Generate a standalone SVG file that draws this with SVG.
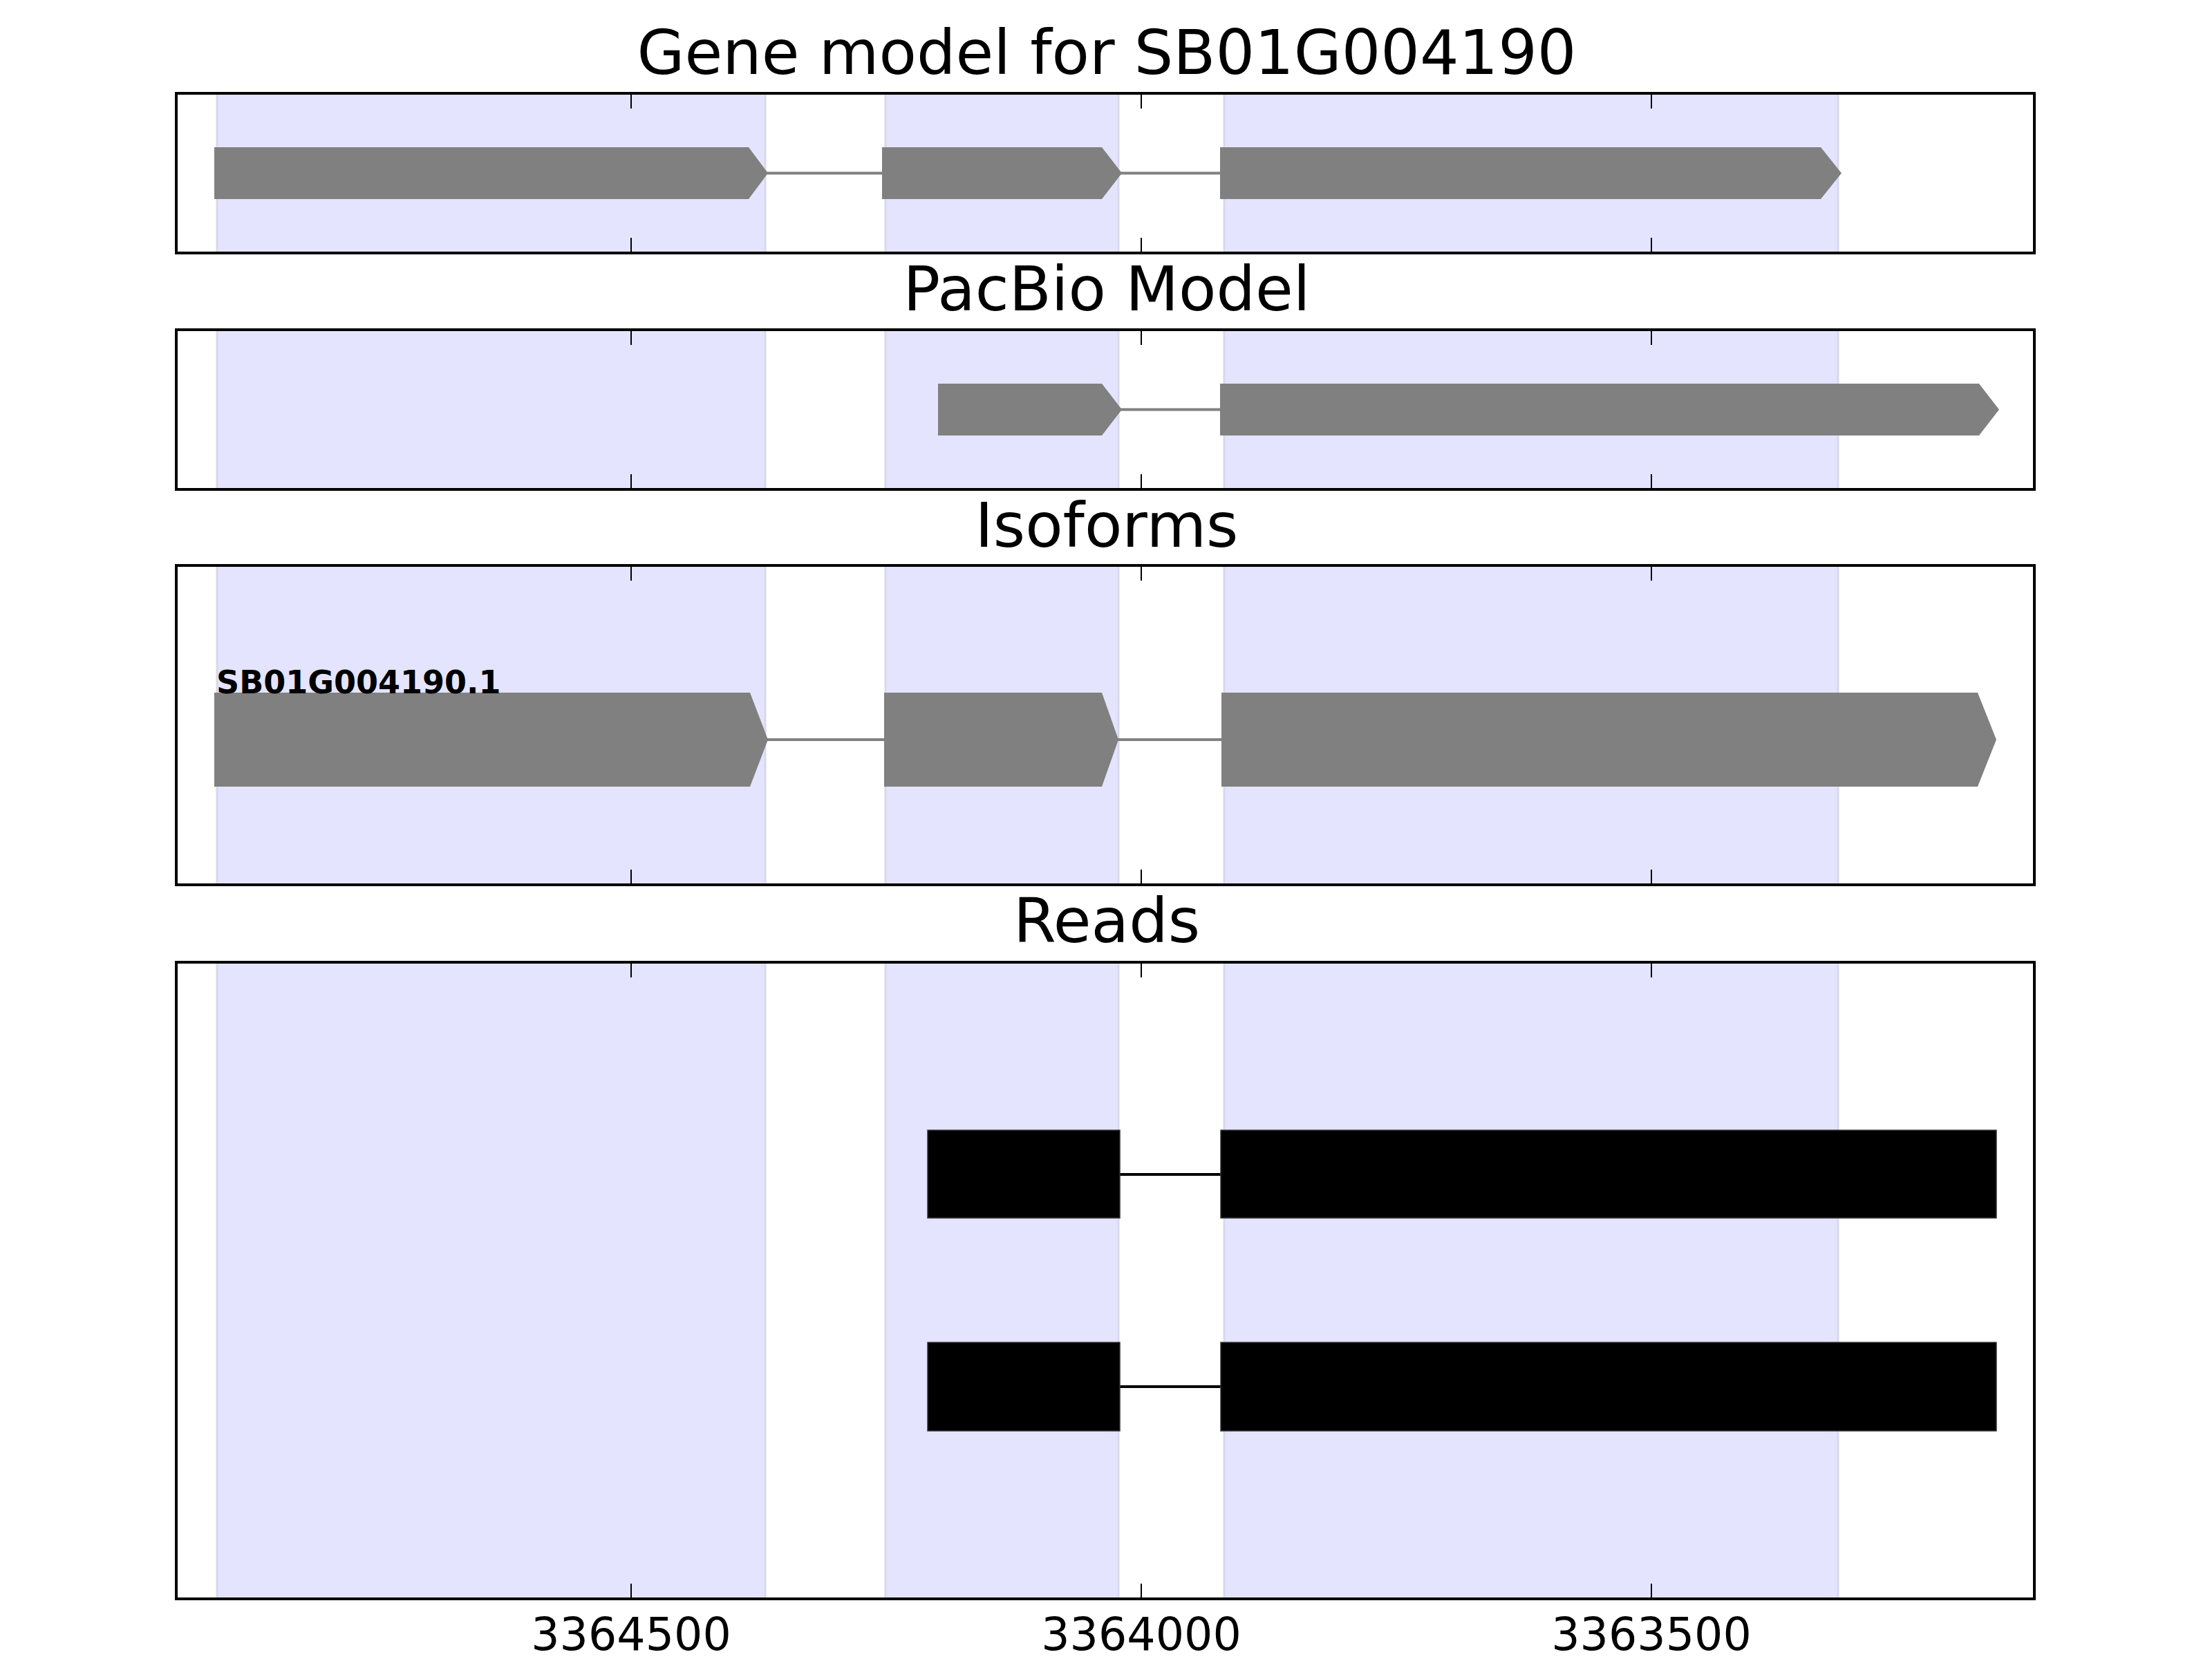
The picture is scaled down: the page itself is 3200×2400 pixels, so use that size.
<svg xmlns="http://www.w3.org/2000/svg" width="3200" height="2400" viewBox="0 0 3200 2400">
<style>
.title{font-family:"DejaVu Sans","Liberation Sans",sans-serif;font-size:89px;fill:#000;text-anchor:middle}
.tick{font-family:"DejaVu Sans","Liberation Sans",sans-serif;font-size:65px;fill:#000;text-anchor:middle}
.lbl{font-family:"DejaVu Sans","Liberation Sans",sans-serif;font-size:46px;font-weight:bold;fill:#000}
.band{fill:#e4e4fe;stroke:#d8d8ec;stroke-width:3}
.frame{fill:none;stroke:#000;stroke-width:4}
.tk{stroke:#000;stroke-width:2}
.exon{fill:#808080}
.intron{stroke:#808080;stroke-width:4;fill:none}
.read{fill:#000;stroke:#333;stroke-width:1.5}
.rintron{stroke:#000;stroke-width:4;fill:none}
</style>
<rect width="3200" height="2400" fill="#fff"/>

<g id="titles">
<text class="title" x="1601" y="107">Gene model for SB01G004190</text>
<text class="title" x="1601" y="449">PacBio Model</text>
<text class="title" x="1601" y="791">Isoforms</text>
<text class="title" x="1601" y="1363">Reads</text>
</g>

<g id="panel-gene">
<rect class="band" x="314" y="135" width="793" height="231"/>
<rect class="band" x="1281" y="135" width="337" height="231"/>
<rect class="band" x="1771" y="135" width="888" height="231"/>
<line class="tk" x1="913" y1="137" x2="913" y2="157"/><line class="tk" x1="913" y1="344" x2="913" y2="364"/>
<line class="tk" x1="1651" y1="137" x2="1651" y2="157"/><line class="tk" x1="1651" y1="344" x2="1651" y2="364"/>
<line class="tk" x1="2389" y1="137" x2="2389" y2="157"/><line class="tk" x1="2389" y1="344" x2="2389" y2="364"/>
<rect class="frame" x="255" y="135" width="2688" height="231"/>
</g>

<g id="panel-pacbio">
<rect class="band" x="314" y="477" width="793" height="231"/>
<rect class="band" x="1281" y="477" width="337" height="231"/>
<rect class="band" x="1771" y="477" width="888" height="231"/>
<line class="tk" x1="913" y1="479" x2="913" y2="499"/><line class="tk" x1="913" y1="686" x2="913" y2="706"/>
<line class="tk" x1="1651" y1="479" x2="1651" y2="499"/><line class="tk" x1="1651" y1="686" x2="1651" y2="706"/>
<line class="tk" x1="2389" y1="479" x2="2389" y2="499"/><line class="tk" x1="2389" y1="686" x2="2389" y2="706"/>
<rect class="frame" x="255" y="477" width="2688" height="231"/>
</g>

<g id="panel-isoforms">
<rect class="band" x="314" y="818" width="793" height="462"/>
<rect class="band" x="1281" y="818" width="337" height="462"/>
<rect class="band" x="1771" y="818" width="888" height="462"/>
<line class="tk" x1="913" y1="820" x2="913" y2="840"/><line class="tk" x1="913" y1="1258" x2="913" y2="1278"/>
<line class="tk" x1="1651" y1="820" x2="1651" y2="840"/><line class="tk" x1="1651" y1="1258" x2="1651" y2="1278"/>
<line class="tk" x1="2389" y1="820" x2="2389" y2="840"/><line class="tk" x1="2389" y1="1258" x2="2389" y2="1278"/>
<rect class="frame" x="255" y="818" width="2688" height="462"/>
</g>

<g id="panel-reads">
<rect class="band" x="314" y="1392" width="793" height="921"/>
<rect class="band" x="1281" y="1392" width="337" height="921"/>
<rect class="band" x="1771" y="1392" width="888" height="921"/>
<line class="tk" x1="913" y1="1394" x2="913" y2="1414"/><line class="tk" x1="913" y1="2291" x2="913" y2="2311"/>
<line class="tk" x1="1651" y1="1394" x2="1651" y2="1414"/><line class="tk" x1="1651" y1="2291" x2="1651" y2="2311"/>
<line class="tk" x1="2389" y1="1394" x2="2389" y2="1414"/><line class="tk" x1="2389" y1="2291" x2="2389" y2="2311"/>
</g>

<g id="connectors">
<line class="intron" x1="1109" y1="250.5" x2="1278" y2="250.5"/>
<line class="intron" x1="1621" y1="250.5" x2="1767" y2="250.5"/>
<line class="intron" x1="1621" y1="592.5" x2="1767" y2="592.5"/>
<line class="intron" x1="1109" y1="1070" x2="1281" y2="1070"/>
<line class="intron" x1="1616" y1="1070" x2="1769" y2="1070"/>
<line class="rintron" x1="1620" y1="1699" x2="1766" y2="1699"/>
<line class="rintron" x1="1620" y1="2006" x2="1766" y2="2006"/>
</g>

<g id="gene-model">
<polygon class="exon" points="310,213 1083,213 1111,250.5 1083,288 310,288"/>
<polygon class="exon" points="1276,213 1594,213 1623,250.5 1594,288 1276,288"/>
<polygon class="exon" points="1765,213 2634,213 2664,250.5 2634,288 1765,288"/>
</g>

<g id="pacbio-model">
<polygon class="exon" points="1357,555 1594,555 1623,592.5 1594,630 1357,630"/>
<polygon class="exon" points="1765,555 2863,555 2892,592.5 2863,630 1765,630"/>
</g>

<g id="isoform-SB01G004190.1">
<polygon class="exon" points="310,1002 1085,1002 1111,1070 1085,1138 310,1138"/>
<polygon class="exon" points="1279,1002 1594,1002 1618,1070 1594,1138 1279,1138"/>
<polygon class="exon" points="1767,1002 2861,1002 2888,1070 2861,1138 1767,1138"/>
<text class="lbl" x="313" y="1003">SB01G004190.1</text>
</g>

<g id="read-1">
<rect class="read" x="1342" y="1635" width="278" height="127"/>
<rect class="read" x="1766" y="1635" width="1122" height="127"/>
</g>

<g id="read-2">
<rect class="read" x="1342" y="1942" width="278" height="128"/>
<rect class="read" x="1766" y="1942" width="1122" height="128"/>
</g>

<g id="reads-frame">
<rect class="frame" x="255" y="1392" width="2688" height="921"/>
</g>

<g id="axis-labels">
<text class="tick" x="913" y="2387">3364500</text>
<text class="tick" x="1651" y="2387">3364000</text>
<text class="tick" x="2389" y="2387">3363500</text>
</g>
</svg>
